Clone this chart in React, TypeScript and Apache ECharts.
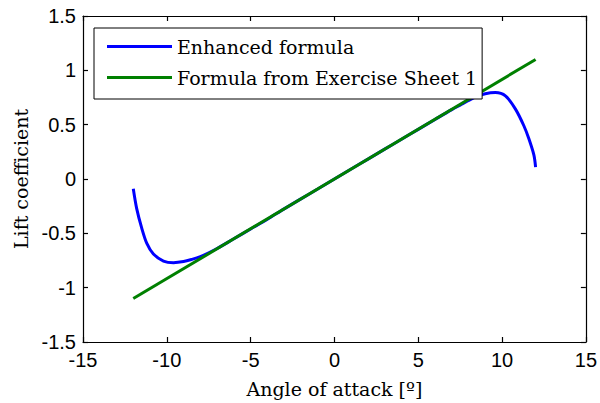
import React, { useEffect, useRef } from "react";
import * as echarts from "echarts";

const seriesNames = ["Enhanced formula", "Formula from Exercise Sheet 1"];

const enhancedAlpha = [
  -12, -11.8, -11.5, -11.2, -10.8, -10.2, -9.6, -9.0, -8.5, -8.0, -7.5, -7, -6, -5, -4, -3, -2, -1, 0,
  1, 2, 3, 4, 5, 6, 7, 7.5, 8, 8.5, 9.0, 9.6, 10.2, 10.8, 11.3, 11.6, 11.9, 12,
];
const enhancedCl = [
  -0.09, -0.27, -0.45, -0.59, -0.69, -0.755, -0.77, -0.76, -0.74, -0.715, -0.68, -0.64, -0.55, -0.46,
  -0.37, -0.275, -0.183, -0.092, 0, 0.092, 0.183, 0.275, 0.366, 0.457, 0.548, 0.638, 0.68, 0.722, 0.76,
  0.785, 0.795, 0.765, 0.643, 0.49, 0.37, 0.22, 0.11,
];

const sheetAlpha = [-12, 12];
const sheetCl = [-1.1, 1.1];

const xTitle = "Angle of attack [\u00BA]";
const yTitle = "Lift coefficient";

export default function App() {
  const ref = useRef<HTMLDivElement>(null);
  useEffect(() => {
    document.body.style.margin = "0";
    if (!ref.current) return;
    const chart = echarts.init(ref.current, null, { renderer: "svg" });
    const serif = "DejaVu Serif";
    const sans = "Liberation Sans";
    const axisLine = { show: true, onZero: false, lineStyle: { color: "#000", width: 1.2 } };
    const axisTick = { show: true, inside: true, length: 5, lineStyle: { color: "#000", width: 1.2 } };
    chart.setOption({
      animation: false,
      backgroundColor: "#fff",
      grid: { left: 83, right: 11, top: 16, bottom: 58, show: false },
      legend: {
        orient: "vertical",
        left: 94,
        top: 28,
        data: seriesNames,
        icon: "rect",
        itemWidth: 65,
        itemHeight: 3,
        itemGap: 12,
        padding: [9, 5, 12, 13],
        borderColor: "#000",
        borderWidth: 1,
        backgroundColor: "#fff",
        textStyle: { fontFamily: serif, fontSize: 19, color: "#000", padding: [0, 0, 0, 0] },
      },
      xAxis: [
        {
          type: "value",
          min: -15,
          max: 15,
          interval: 5,
          position: "bottom",
          axisLine,
          axisTick,
          splitLine: { show: false },
          axisLabel: { color: "#000", fontFamily: sans, fontSize: 20, margin: 8 },
          name: xTitle,
          nameLocation: "middle",
          nameGap: 37,
          nameTextStyle: { fontFamily: serif, fontSize: 19, color: "#000" },
        },
        {
          type: "value",
          min: -15,
          max: 15,
          interval: 5,
          position: "top",
          axisLine,
          axisTick,
          splitLine: { show: false },
          axisLabel: { show: false },
        },
      ],
      yAxis: [
        {
          type: "value",
          min: -1.5,
          max: 1.5,
          interval: 0.5,
          position: "left",
          axisLine,
          axisTick,
          splitLine: { show: false },
          axisLabel: { color: "#000", fontFamily: sans, fontSize: 20, margin: 7 },
          name: yTitle,
          nameLocation: "middle",
          nameGap: 52,
          nameRotate: 90,
          nameTextStyle: { fontFamily: serif, fontSize: 19, color: "#000" },
        },
        {
          type: "value",
          min: -1.5,
          max: 1.5,
          interval: 0.5,
          position: "right",
          axisLine,
          axisTick,
          splitLine: { show: false },
          axisLabel: { show: false },
        },
      ],
      series: [
        {
          name: seriesNames[0],
          type: "line",
          data: enhancedAlpha.map((a, i) => [a, enhancedCl[i]]),
          showSymbol: false,
          smooth: 0.3,
          lineStyle: { color: "#0000ff", width: 3 },
          itemStyle: { color: "#0000ff" },
          z: 2,
        },
        {
          name: seriesNames[1],
          type: "line",
          data: sheetAlpha.map((a, i) => [a, sheetCl[i]]),
          showSymbol: false,
          lineStyle: { color: "#008000", width: 3 },
          itemStyle: { color: "#008000" },
          z: 3,
        },
      ],
    });
    return () => chart.dispose();
  }, []);
  return <div ref={ref} style={{ width: 600, height: 403 }} />;
}
